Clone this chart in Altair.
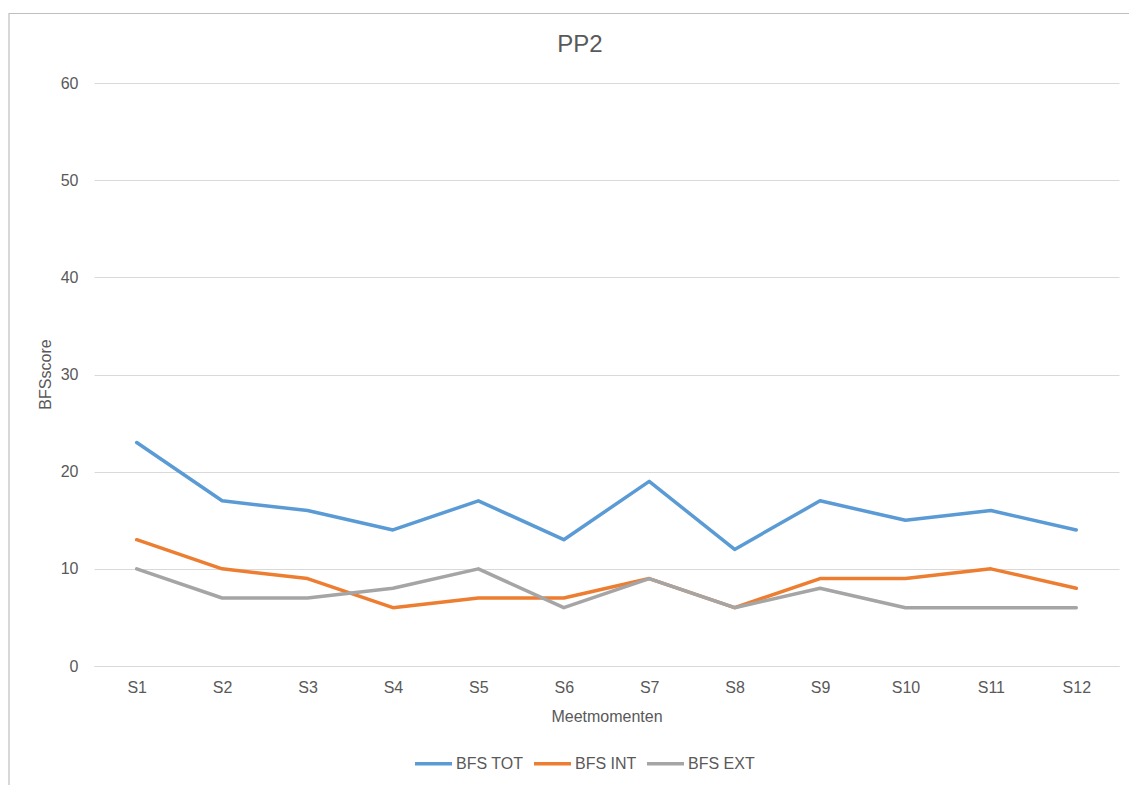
import altair as alt
import pandas as pd

sessions = ["S1", "S2", "S3", "S4", "S5", "S6", "S7", "S8", "S9", "S10", "S11", "S12"]
bfs_tot = [23, 17, 16, 14, 17, 13, 19, 12, 17, 15, 16, 14]
bfs_int = [13, 10, 9, 6, 7, 7, 9, 6, 9, 9, 10, 8]
bfs_ext = [10, 7, 7, 8, 10, 6, 9, 6, 8, 6, 6, 6]
series_names = ["BFS TOT", "BFS INT", "BFS EXT"]
series_colors = ["#5B9BD5", "#ED7D31", "#A5A5A5"]
chart_title = "PP2"

rows = []
for name, vals in zip(series_names, [bfs_tot, bfs_int, bfs_ext]):
    for i, (s, v) in enumerate(zip(sessions, vals)):
        rows.append({"Meetmoment": s, "Score": v, "Reeks": name, "order": i})
df = pd.DataFrame(rows)

FONT = "Liberation Sans"
TXT = "#595959"

lines = alt.Chart(df).mark_line(strokeWidth=3.5, strokeCap="round", strokeJoin="round").encode(
    x=alt.X("Meetmoment:N", sort=sessions,
            scale=alt.Scale(type="point", padding=0.5),
            axis=alt.Axis(title="Meetmomenten", labelAngle=0, ticks=False, domain=True,
                          domainColor="#D9D9D9", domainWidth=1, grid=False,
                          labelFontSize=16, labelColor=TXT, labelFont=FONT, labelPadding=13,
                          titleFontSize=16, titleColor=TXT, titleFont=FONT, titleFontWeight="normal",
                          titleY=50, titleBaseline="middle")),
    y=alt.Y("Score:Q", scale=alt.Scale(domain=[0, 60], nice=False),
            axis=alt.Axis(title="BFSscore", values=[0, 10, 20, 30, 40, 50, 60], ticks=False,
                          domain=False, grid=True, gridColor="#D9D9D9", gridWidth=1,
                          labelFontSize=16, labelColor=TXT, labelFont=FONT, labelPadding=16,
                          titleFontSize=16, titleColor=TXT, titleFont=FONT, titleFontWeight="normal",
                          titleAngle=270, titleX=-49, titleY=291, titleAlign="center",
                          titleBaseline="middle")),
    color=alt.Color("Reeks:N", sort=series_names,
                    scale=alt.Scale(domain=series_names, range=series_colors),
                    legend=alt.Legend(title=None, orient="none", direction="horizontal",
                                      legendX=319, legendY=660, symbolType="stroke",
                                      symbolSize=1369, symbolStrokeWidth=3.5,
                                      labelFontSize=16, labelColor=TXT, labelFont=FONT,
                                      labelOffset=2, columnPadding=3)),
    order="order:Q",
)

frame = alt.Chart(alt.Data(values=[{}])).mark_rect(fill=None, stroke="#BFBFBF", strokeWidth=1.2).encode(
    x=alt.value(-85), y=alt.value(-69.5), x2=alt.value(1300), y2=alt.value(900)
)

title = alt.Chart(alt.Data(values=[{"t": chart_title}])).mark_text(
    font=FONT, fontSize=24, color=TXT, align="center", baseline="middle"
).encode(text="t:N", x=alt.value(486), y=alt.value(-38))

chart = alt.layer(frame, lines, title).properties(
    width=1025, height=583,
    autosize=alt.AutoSizeParams(type="none"),
    padding={"left": 94, "top": 83, "right": 10, "bottom": 119},
).configure(background="white").configure_view(stroke=None)

chart.save("out.html", embed_options={"renderer": "svg", "actions": False})
